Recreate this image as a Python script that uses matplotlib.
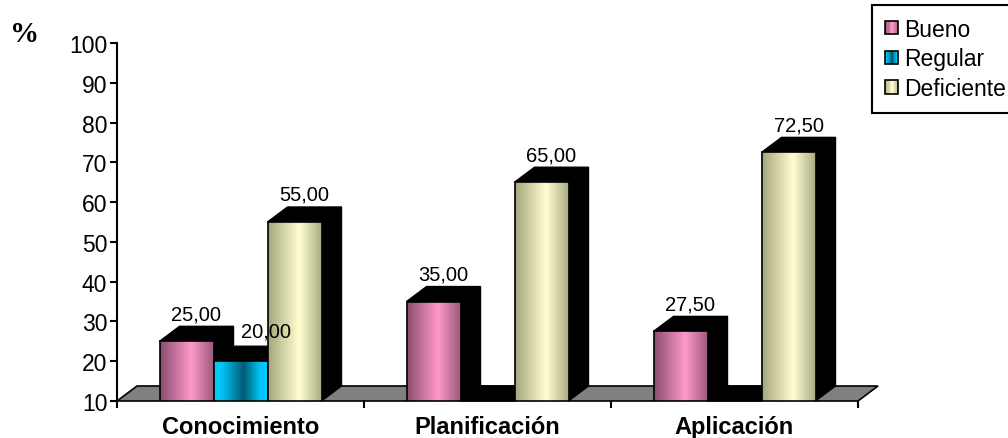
import numpy as np
import matplotlib
matplotlib.use("Agg")
import matplotlib.pyplot as plt
from matplotlib.patches import Polygon, Rectangle
from matplotlib.colors import LinearSegmentedColormap
from matplotlib.legend_handler import HandlerBase

# ---------------- data ----------------
categories = ["Conocimiento", "Planificación", "Aplicación"]
series_names = ["Bueno", "Regular", "Deficiente"]
bueno = [25.00, 35.00, 27.50]
regular = [20.00, 0.00, 0.00]
deficiente = [55.00, 65.00, 72.50]
yticks = [10, 20, 30, 40, 50, 60, 70, 80, 90, 100]
y_min, y_max = 10, 100

series_values = [bueno, regular, deficiente]

# ---------------- style ----------------
plt.rcParams["font.family"] = ["Liberation Sans", "DejaVu Sans"]
W, H = 1008, 439
fig = plt.figure(figsize=(W / 100, H / 100), dpi=100)
ax_l, ax_b, ax_w, ax_h = 117, 37, 741, 358
ax = fig.add_axes([ax_l / W, ax_b / H, ax_w / W, ax_h / H])

cmaps = [
    LinearSegmentedColormap.from_list("pink", [(0, "#8a4d6c"), (0.58, "#ff99cc"), (1, "#9a5878")]),
    LinearSegmentedColormap.from_list("blue", [(0, "#00ccff"), (0.15, "#00c4f5"), (0.55, "#005a74"), (0.85, "#00c4f5"), (1, "#00ccff")]),
    LinearSegmentedColormap.from_list("yel", [(0, "#a6a67e"), (0.58, "#ffffd0"), (1, "#abab84")]),
]

n_cat = len(categories)
x = np.arange(n_cat)
bar_w = 54 / (ax_w / n_cat)
offsets = [-bar_w, 0.0, bar_w]

# depth offsets in data units (from pixel sizes)
px_per_x = ax_w / n_cat
px_per_y = ax_h / (y_max - y_min)
DX = 20 / px_per_x
DY = 15 / px_per_y

ax.set_xlim(-0.5, n_cat - 0.5)
ax.set_ylim(y_min, y_max)

# floor
floor = Polygon([(-0.5, y_min), (n_cat - 0.5, y_min), (n_cat - 0.5 + DX, y_min + DY), (-0.5 + DX, y_min + DY)],
                closed=True, facecolor="#808080", edgecolor="black", lw=1.2, zorder=1, clip_on=False)
ax.add_patch(floor)

grad = np.linspace(0, 1, 256)[np.newaxis, :]
PT = 0.72  # points per pixel at dpi 100
label_rise_px = 12.5
label_nudge = {(1, 0): (16, 3)}  # (series, category): extra (right, up) pixels
for si, vals in enumerate(series_values):
    vals = np.asarray(vals, dtype=float)
    heights = np.maximum(vals, y_min) - y_min
    bars = ax.bar(x + offsets[si], heights, bar_w, bottom=y_min, facecolor="none",
                  edgecolor="black", lw=1.2, zorder=2)
    for ci, (b, v) in enumerate(zip(bars, vals)):
        x0, x1 = b.get_x(), b.get_x() + b.get_width()
        y0, y1 = b.get_y(), b.get_y() + b.get_height()
        zz = 2 + ci * 10 + si * 3
        top = Polygon([(x0, y1), (x1, y1), (x1 + DX, y1 + DY), (x0 + DX, y1 + DY)],
                      closed=True, facecolor="black", edgecolor="black", lw=1, zorder=zz, clip_on=False)
        side = Polygon([(x1, y0), (x1 + DX, y0 + DY), (x1 + DX, y1 + DY), (x1, y1)],
                       closed=True, facecolor="black", edgecolor="black", lw=1, zorder=zz, clip_on=False)
        ax.add_patch(top)
        ax.add_patch(side)
        b.set_zorder(zz + 2)
        if y1 > y0:
            im = ax.imshow(grad, extent=[x0, x1, y0, y1], aspect="auto", cmap=cmaps[si],
                           interpolation="bilinear", zorder=zz + 1)
            im.set_clip_path(b)
        if v > y_min:
            nx, ny = label_nudge.get((si, ci), (0, 0))
            ax.annotate(f"{v:.2f}".replace(".", ","),
                        xy=(b.get_x() + b.get_width() / 2 + DX / 2, y1 + DY),
                        xytext=(nx * PT, (label_rise_px + ny) * PT), textcoords="offset points",
                        ha="center", va="center", fontsize=14.5, zorder=50, annotation_clip=False)

ax.set_xlim(-0.5, n_cat - 0.5)
ax.set_ylim(y_min, y_max)

# axes styling
for s in ["top", "right", "bottom"]:
    ax.spines[s].set_visible(False)
ax.spines["left"].set_linewidth(1.5)
ax.set_yticks(yticks)
ax.set_yticklabels([str(t) for t in yticks])
ax.tick_params(axis="y", direction="out", length=5, width=1.5, pad=2, labelsize=16.5)

ax.set_xticks(np.arange(n_cat + 1) - 0.5)
ax.set_xticklabels([])
ax.tick_params(axis="x", which="major", direction="out", length=5, width=1.5)
ax.set_xticks(x, minor=True)
ax.set_xticklabels(categories, minor=True, fontweight="bold", fontsize=17)
ax.tick_params(axis="x", which="minor", length=0, pad=10)

fig.text(25 / W, 1 - 34 / H, "%", fontsize=21, fontweight="bold", family=["Liberation Serif", "DejaVu Serif"],
         ha="center", va="center")


class GradHandler(HandlerBase):
    def __init__(self, cmap):
        super().__init__()
        self.cmap = cmap

    def create_artists(self, legend, orig_handle, xdescent, ydescent, width, height, fontsize, trans):
        s = min(width, height)
        x0, y0 = -xdescent, -ydescent + (height - s) / 2
        n = 10
        arts = []
        for i in range(n):
            arts.append(Rectangle((x0 + i * s / n, y0), s / n, s, facecolor=self.cmap((i + 0.5) / n),
                                  edgecolor="none", transform=trans))
        arts.append(Rectangle((x0, y0), s, s, facecolor="none", edgecolor="black", lw=1.2, transform=trans))
        return arts


handles = [Rectangle((0, 0), 1, 1) for _ in series_names]
leg = fig.legend(handles, series_names, loc="upper left",
                 bbox_to_anchor=(872 / W, 1 - 6 / H, 160 / W, 0.0), mode="expand",
                 handler_map={h: GradHandler(c) for h, c in zip(handles, cmaps)},
                 fontsize=16.5, frameon=True, fancybox=False, framealpha=1, edgecolor="black",
                 handlelength=0.6, handleheight=0.6, handletextpad=0.25, borderpad=0.55,
                 labelspacing=0.3, borderaxespad=0)
leg.get_frame().set_linewidth(1.5)

fig.savefig("out.png", dpi=100)
